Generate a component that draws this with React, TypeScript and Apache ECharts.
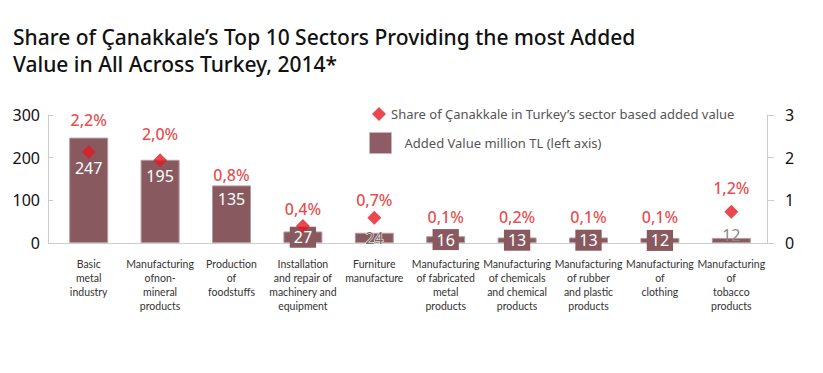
import React, { useEffect, useRef } from "react";
import * as echarts from "echarts";

const categories = [
  "Basic\nmetal\nindustry",
  "Manufacturing\nofnon-\nmineral\nproducts",
  "Production\nof\nfoodstuffs",
  "Installation\nand repair of\nmachinery and\nequipment",
  "Furniture\nmanufacture",
  "Manufacturing\nof fabricated\nmetal\nproducts",
  "Manufacturing\nof chemicals\nand chemical\nproducts",
  "Manufacturing\nof rubber\nand plastic\nproducts",
  "Manufacturing\nof\nclothing",
  "Manufacturing\nof\ntobacco\nproducts",
];
const addedValue = [247, 195, 135, 27, 24, 16, 13, 13, 12, 12];
const shareLabels = ["2,2%", "2,0%", "0,8%", "0,4%", "0,7%", "0,1%", "0,2%", "0,1%", "0,1%", "1,2%"];
const shareMarker = [2.13, 1.94, 0.8, 0.4, 0.59, 0.1, 0.2, 0.1, 0.1, 0.73];
const markerShown = [true, true, false, true, true, false, false, false, false, true];
const leftTicks = [0, 100, 200, 300];
const rightTicks = [0, 1, 2, 3];

const seriesNames = [
  "Share of Çanakkale in Turkey’s sector based added value",
  "Added Value million TL (left axis)",
];

// layout-only constants
const labelLift = [17, 11, 26, 2, 3, 14, 9, 14, 14, 9];
const barTopDist = [22, 8, 6];

const BAR = "#885A60";
const RED = "#E21A22";
const FONT = "Noto Sans";

export default function App() {
  const ref = useRef<HTMLDivElement>(null);
  useEffect(() => {
    if (!ref.current) return;
    const chart = echarts.init(ref.current, undefined, { renderer: "svg" });

    const barData = addedValue.map((v, i) => {
      let label: any;
      if (i < 3) {
        label = { show: true, position: "insideTop", distance: barTopDist[i], color: "#fff", fontSize: 16 };
      } else if (i === 4) {
        label = { show: true, position: "inside", color: "#7a6a6c", fontSize: 16, textBorderColor: "#fff", textBorderWidth: 1 };
      } else if (i === 9) {
        label = { show: true, position: "top", distance: -5, color: "#8a8a8a", fontSize: 16 };
      } else {
        label = {
          show: true, position: "inside", color: "#fff", fontSize: 16,
          backgroundColor: BAR, padding: [3, 4, 2, 4],
        };
      }
      return { value: v, label };
    });

    const scatterData = shareMarker.map((v, i) => ({
      value: v,
      symbolSize: markerShown[i] ? 14 : 0,
      label: {
        show: true,
        position: "top",
        distance: labelLift[i],
        formatter: () => shareLabels[i],
        color: RED,
        fontSize: 16,
        fontWeight: 500,
        fontFamily: FONT,
      },
    }));

    chart.setOption({
      animation: false,
      textStyle: { fontFamily: FONT },
      title: {
        text: "Share of Çanakkale’s Top 10 Sectors Providing the most Added\nValue in All Across Turkey, 2014*",
        left: 8,
        top: 18,
        textStyle: { fontFamily: FONT, fontSize: 21, fontWeight: 500, color: "#111", lineHeight: 27 },
      },
      legend: [
        {
          data: [{ name: seriesNames[0], icon: "diamond" }],
          left: 367,
          top: 102,
          itemWidth: 14,
          itemHeight: 14,
          itemGap: 0,
          textStyle: { fontFamily: FONT, fontSize: 13, color: "#555", padding: [0, 0, 0, 0] },
        },
        {
          data: [{ name: seriesNames[1], icon: "rect", itemStyle: { color: "#8E5C66", borderColor: "#c9b4b8", borderWidth: 1 } }],
          left: 364,
          top: 127,
          itemWidth: 22,
          itemHeight: 21,
          textStyle: { fontFamily: FONT, fontSize: 13, color: "#555", padding: [0, 0, 0, 8] },
        },
      ],
      grid: { left: 53, right: 56, top: 115, bottom: 130 },
      xAxis: {
        type: "category",
        data: categories,
        axisLine: { lineStyle: { color: "#cccccc" } },
        axisTick: { show: false },
        axisLabel: { interval: 0, color: "#333", fontSize: 10.5, lineHeight: 14, margin: 14, fontFamily: "Lato" },
      },
      yAxis: [
        {
          type: "value",
          min: leftTicks[0],
          max: leftTicks[leftTicks.length - 1],
          interval: 100,
          offset: 5,
          splitLine: { show: false },
          axisLine: { show: true, lineStyle: { color: "#cccccc" } },
          axisTick: { show: true, inside: true, length: 5, lineStyle: { color: "#cccccc" } },
          axisLabel: { color: "#111", fontSize: 16, margin: 8, fontFamily: FONT },
        },
        {
          type: "value",
          min: rightTicks[0],
          max: rightTicks[rightTicks.length - 1],
          interval: 1,
          splitLine: { show: false },
          axisLine: { show: true, lineStyle: { color: "#cccccc" } },
          axisTick: { show: true, length: 7, lineStyle: { color: "#cccccc" } },
          axisLabel: { color: "#111", fontSize: 16, margin: 18, fontFamily: FONT },
        },
      ],
      series: [
        {
          name: seriesNames[1],
          type: "bar",
          yAxisIndex: 0,
          barWidth: 39,
          itemStyle: { color: BAR, borderColor: "#b59aa0", borderWidth: 1 },
          label: { fontFamily: FONT },
          data: barData,
          z: 2,
        },
        {
          name: seriesNames[0],
          type: "scatter",
          yAxisIndex: 1,
          symbol: "diamond",
          itemStyle: { color: RED },
          data: scatterData,
          z: 2,
        },
      ],
    });
    return () => chart.dispose();
  }, []);
  return (
    <div
      ref={ref}
      style={{ position: "absolute", left: 0, top: 0, width: 823, height: 373, background: "#fff" }}
    />
  );
}
